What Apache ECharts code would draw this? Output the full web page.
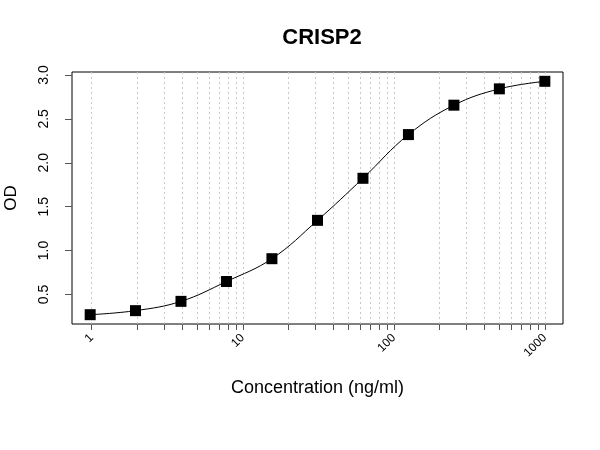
<!DOCTYPE html>
<html>
<head>
<meta charset="utf-8">
<script src="https://cdn.jsdelivr.net/npm/echarts@6/dist/echarts.min.js"></script>
<style>
html,body{margin:0;padding:0;background:#fff;}
#chart{width:600px;height:450px;}
</style>
</head>
<body>
<div id="chart"></div>
<script>
// Data
const concentrations = [0.977, 1.95, 3.9, 7.8, 15.6, 31.25, 62.5, 125, 250, 500, 1000];
const odValues = [0.269, 0.315, 0.421, 0.647, 0.907, 1.344, 1.823, 2.321, 2.656, 2.842, 2.928];
// Tick values
const xTickValues = [1,2,3,4,5,6,7,8,9,10,20,30,40,50,60,70,80,90,100,200,300,400,500,600,700,800,900,1000];
const xLabelValues = [1, 10, 100, 1000];
const yTickValues = [0.5, 1.0, 1.5, 2.0, 2.5, 3.0];

const FONT = 'Liberation Sans, Arial, sans-serif';
const chart = echarts.init(document.getElementById('chart'), null, {renderer: 'canvas'});
chart.setOption({
  animation: false,
  backgroundColor: '#fff',
  title: {
    text: 'CRISP2',
    left: 317,
    top: 22,
    textAlign: 'center',
    textStyle: {fontFamily: FONT, fontSize: 22, fontWeight: 'bold', color: '#000'}
  },
  grid: {
    left: 72, right: 37, top: 72, bottom: 126,
    outerBoundsMode: 'none',
    containLabel: false,
    show: true, borderColor: '#000', borderWidth: 1, backgroundColor: 'transparent'
  },
  xAxis: {
    type: 'log',
    logBase: 10,
    min: 0.7405,
    max: 1319,
    name: 'Concentration (ng/ml)',
    nameLocation: 'middle',
    nameGap: 55,
    nameTextStyle: {fontFamily: FONT, fontSize: 18, color: '#000'},
    axisLine: {show: false},
    axisTick: {show: true, length: 6, customValues: xTickValues, lineStyle: {color: '#555'}},
    axisLabel: {
      customValues: xLabelValues,
      rotate: 45,
      margin: 12,
      fontFamily: FONT, fontSize: 12, color: '#000',
      formatter: v => String(v)
    },
    splitLine: {show: true, lineStyle: {type: [2, 3], color: '#c8c8c8', width: 1}},
    minorTick: {show: false}
  },
  yAxis: {
    type: 'value',
    min: 0.163,
    max: 3.034,
    name: 'OD',
    nameLocation: 'middle',
    nameGap: 52,
    nameTextStyle: {fontFamily: FONT, fontSize: 17, color: '#000'},
    axisLine: {show: false},
    axisTick: {show: true, length: 7, customValues: yTickValues, lineStyle: {color: '#555'}},
    axisLabel: {
      customValues: yTickValues,
      rotate: 90,
      margin: 21,
      fontFamily: FONT, fontSize: 14, color: '#000',
      formatter: v => v.toFixed(1)
    },
    splitLine: {show: false}
  },
  series: [{
    type: 'line',
    data: concentrations.map((c, i) => [c, odValues[i]]),
    smooth: 0.4,
    symbol: 'rect',
    symbolSize: 11,
    itemStyle: {color: '#000'},
    lineStyle: {color: '#000', width: 1}
  }]
});
</script>
</body>
</html>
